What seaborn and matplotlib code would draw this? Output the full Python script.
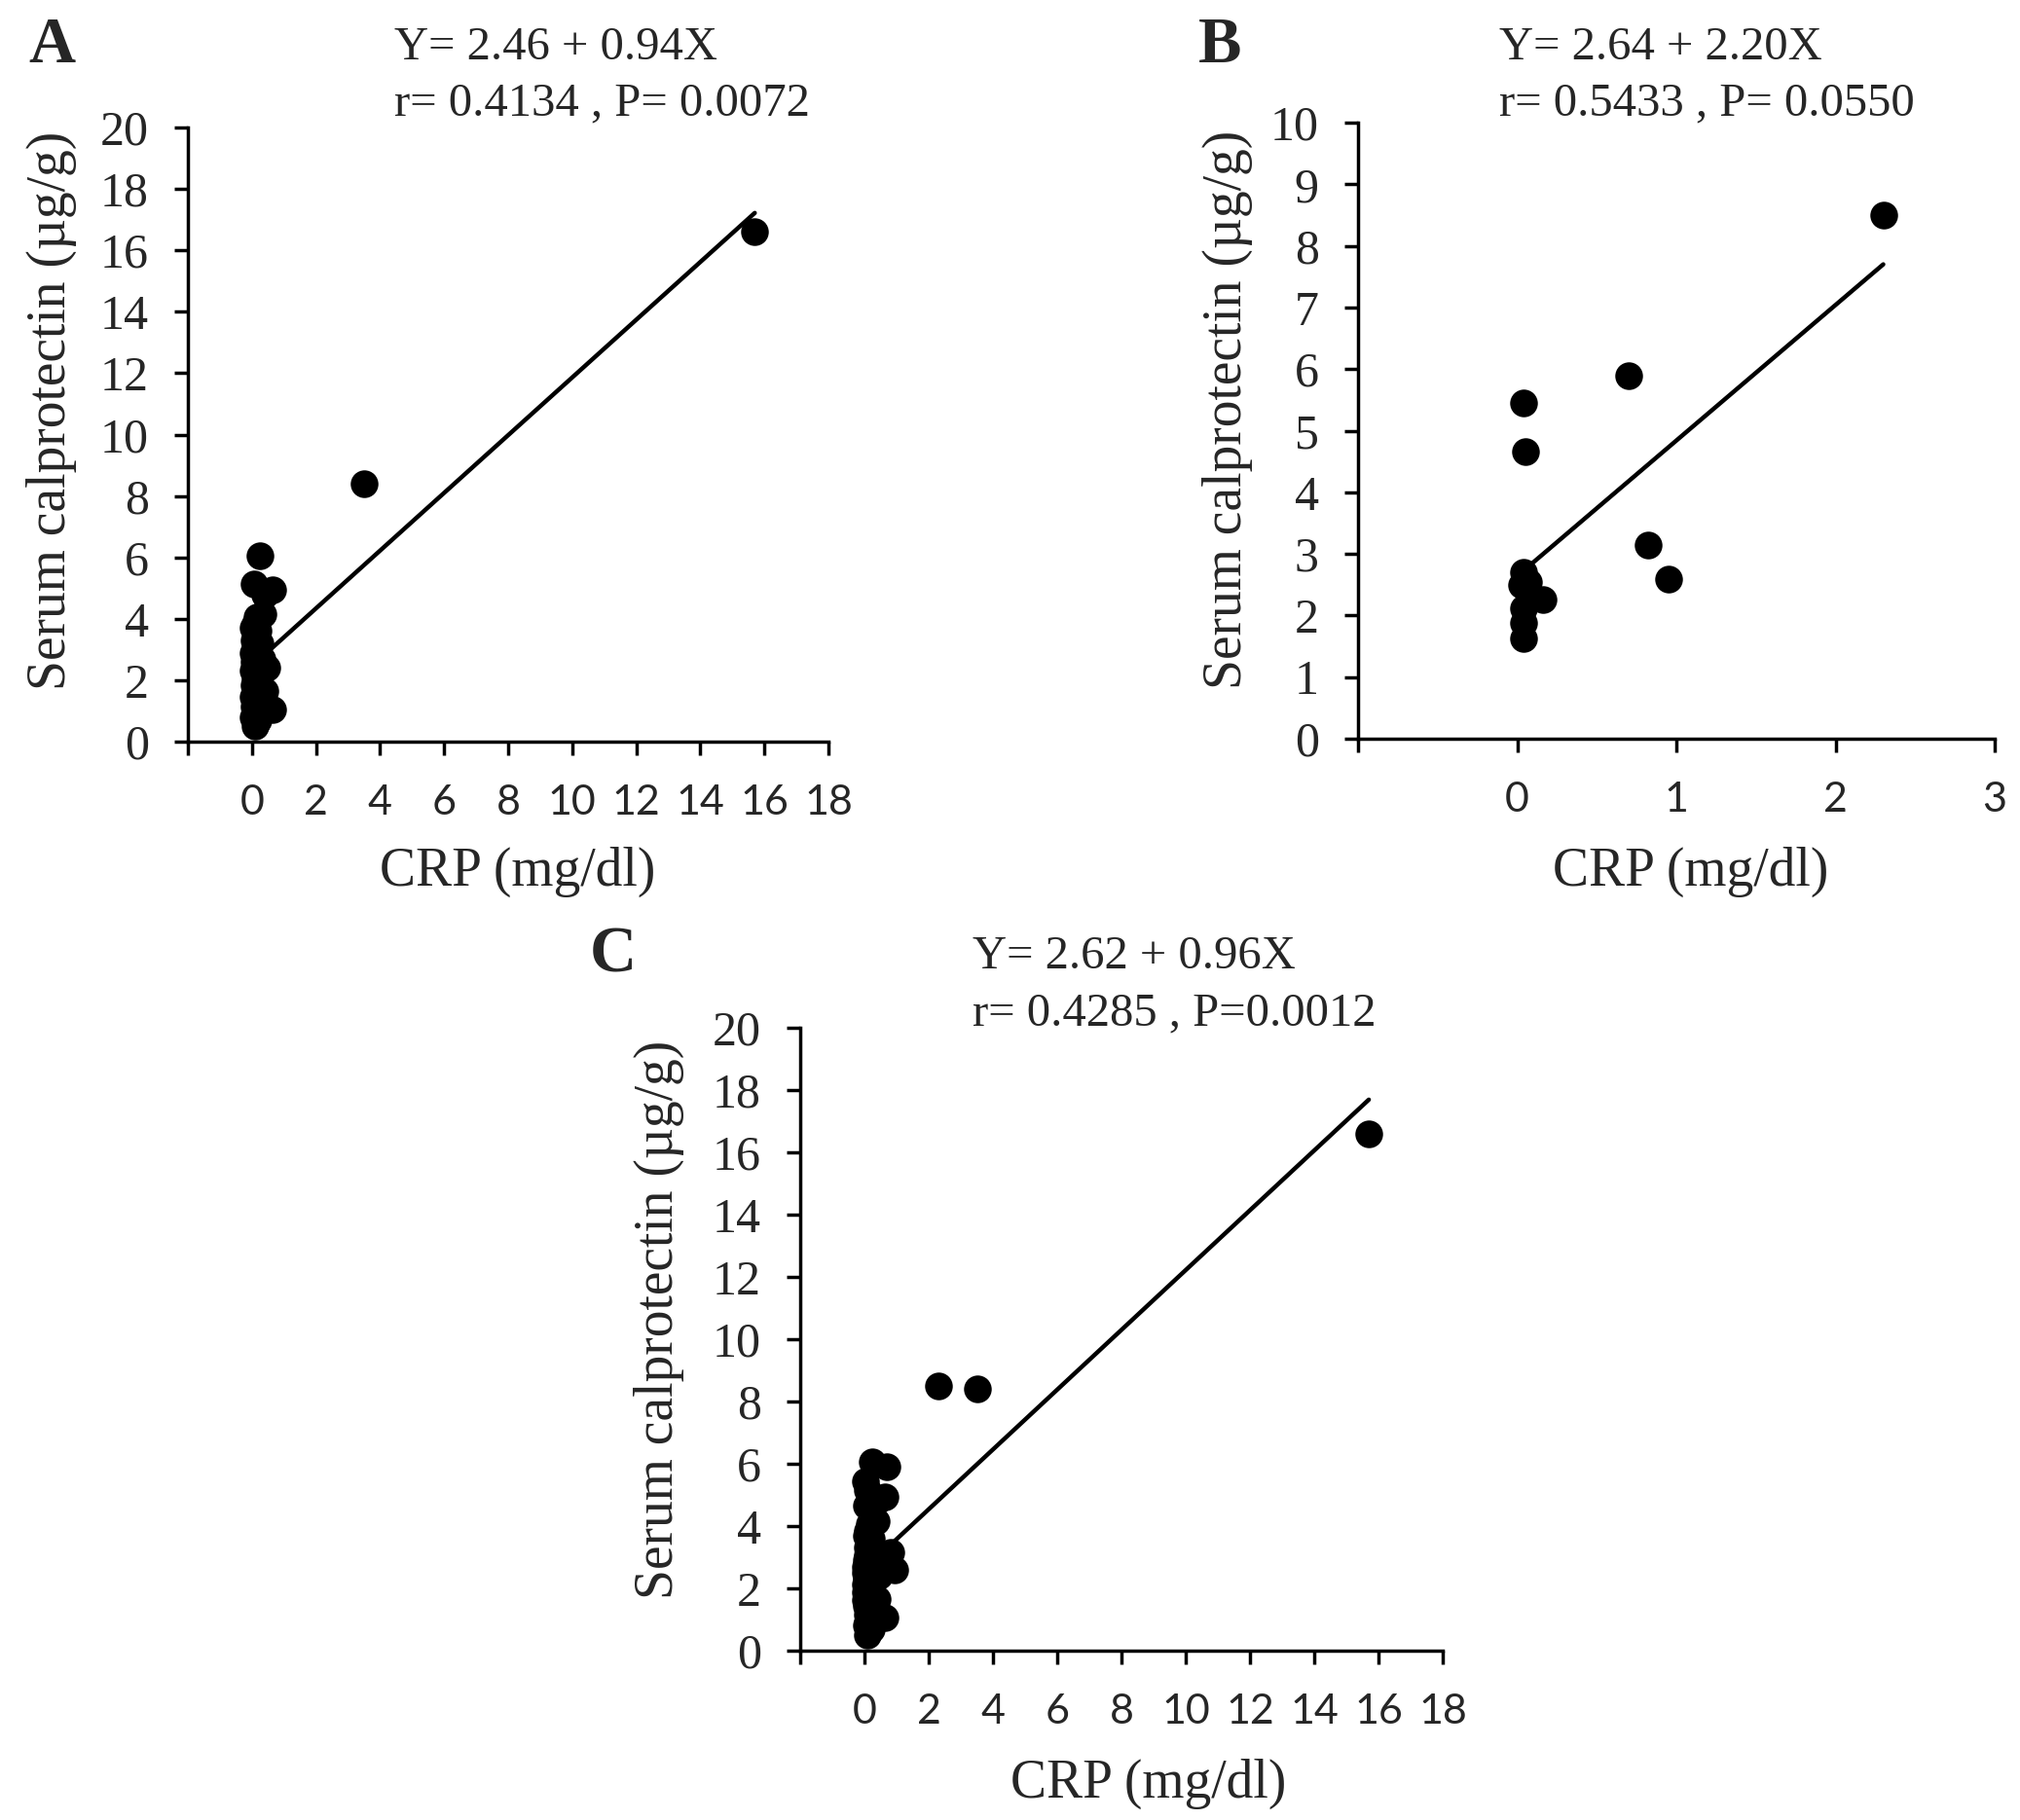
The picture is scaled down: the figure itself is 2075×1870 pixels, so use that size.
import pandas as pd
import matplotlib
matplotlib.use("Agg")
import matplotlib.pyplot as plt
import seaborn as sns

# panel A : CRP vs serum calprotectin
crp_a = [15.7, 3.5, 0.24, 0.08, 0.65, 0.40, 0.35, 0.15, 0.10, 0.05, 0.20, 0.12, 0.08, 0.25,
         0.10, 0.05, 0.18, 0.30, 0.08, 0.12, 0.45, 0.05, 0.20, 0.10, 0.15, 0.06, 0.25, 0.40,
         0.10, 0.05, 0.20, 0.12, 0.08, 0.65, 0.30, 0.10, 0.05, 0.20, 0.12, 0.10]
cal_a = [16.6, 8.4, 6.05, 5.15, 4.95, 4.8, 4.15, 4.05, 3.85, 3.7, 3.6, 3.45, 3.3, 3.2,
         3.05, 2.9, 2.8, 2.7, 2.6, 2.45, 2.4, 2.3, 2.2, 2.05, 1.95, 1.85, 1.75, 1.65,
         1.55, 1.45, 1.35, 1.25, 1.15, 1.05, 1.0, 0.9, 0.8, 0.7, 0.6, 0.5]

# panel B
crp_b = [2.30, 0.70, 0.04, 0.05, 0.82, 0.95, 0.04, 0.07, 0.03, 0.16, 0.04, 0.04, 0.04]
cal_b = [8.5, 5.9, 5.45, 4.66, 3.15, 2.59, 2.70, 2.55, 2.5, 2.26, 2.12, 1.88, 1.62]

# panel C : all patients (A + B)
crp_c = crp_a + crp_b
cal_c = cal_a + cal_b

intercepts = [2.46, 2.64, 2.62]
slopes = [0.94, 2.20, 0.96]
equations = ["Y= 2.46 + 0.94X", "Y= 2.64 + 2.20X", "Y= 2.62 + 0.96X"]
stats_txt = ["r= 0.4134 , P= 0.0072", "r= 0.5433 , P= 0.0550", "r= 0.4285 , P=0.0012"]
letters = ["A", "B", "C"]

sns.set_style("white")
plt.rcParams["font.family"] = ["Liberation Serif", "DejaVu Serif"]

W, H = 2075, 1870
fig = plt.figure(figsize=(W / 100, H / 100), dpi=100)

# axes boxes in pixels: left, top, right, bottom
boxes = [(193, 131, 851, 762), (1395, 126, 2049, 759), (822, 1056, 1482, 1696)]
axes = []
for l, t, r, b in boxes:
    axes.append(fig.add_axes([l / W, 1 - b / H, (r - l) / W, (b - t) / H]))

panels = [(crp_a, cal_a), (crp_b, cal_b), (crp_c, cal_c)]
xlims = [(-2, 18), (-1, 3), (-2, 18)]
xsteps = [2, 1, 2]
ylims = [(0, 20), (0, 10), (0, 20)]
ysteps = [2, 1, 2]
ylab_xy = [(-0.213, 0.539), (-0.205, 0.534), (-0.22, 0.531)]
xlab_xy = [(0.514, -0.212), (0.523, -0.216), (0.542, -0.214)]

for i, ax in enumerate(axes):
    x, y = panels[i]
    df = pd.DataFrame({"crp": x, "cal": y})
    sns.scatterplot(data=df, x="crp", y="cal", ax=ax, color="black", s=420,
                    linewidth=0, zorder=3)
    x0, x1 = min(x), max(x)
    fit = pd.DataFrame({"crp": [x0, x1],
                        "cal": [intercepts[i] + slopes[i] * x0, intercepts[i] + slopes[i] * x1]})
    sns.lineplot(data=fit, x="crp", y="cal", ax=ax, color="black", lw=3.2, zorder=4)

    ax.set_xlim(*xlims[i])
    ax.set_ylim(*ylims[i])
    xt = list(range(xlims[i][0], xlims[i][1] + 1, xsteps[i]))
    ax.set_xticks(xt)
    ax.set_xticklabels(["" if v < 0 else str(v) for v in xt], family="Lato", fontsize=31)
    yt = list(range(ylims[i][0], ylims[i][1] + 1, ysteps[i]))
    ax.set_yticks(yt)
    ax.set_yticklabels([str(v) for v in yt], fontsize=36)
    ax.tick_params(axis="both", direction="out", length=10, width=2.5, color="black",
                   bottom=True, left=True)
    ax.tick_params(axis="x", pad=22)
    ax.tick_params(axis="y", pad=19)

    sns.despine(ax=ax)
    for sp in ["left", "bottom"]:
        ax.spines[sp].set_linewidth(2.5)
        ax.spines[sp].set_color("black")

    ax.set_ylabel("Serum calprotectin (µg/g)", fontsize=40, va="center")
    ax.yaxis.set_label_coords(*ylab_xy[i])
    ax.set_xlabel("CRP (mg/dl)", fontsize=40, va="center")
    ax.xaxis.set_label_coords(*xlab_xy[i])

# panel letters and regression text
letter_pos = [(29, 47), (1231, 47), (606, 982)]
text_pos = [(405, 49, 106), (1540, 49, 106), (999, 983, 1041)]
for i in range(3):
    lx, ly = letter_pos[i]
    fig.text(lx / W, 1 - ly / H, letters[i], fontsize=48, fontweight="bold",
             ha="left", va="center")
    tx, ty1, ty2 = text_pos[i]
    fig.text(tx / W, 1 - ty1 / H, equations[i], fontsize=35, ha="left", va="center")
    fig.text(tx / W, 1 - ty2 / H, stats_txt[i], fontsize=35, ha="left", va="center")

fig.savefig("out.png", dpi=100, facecolor="white")
